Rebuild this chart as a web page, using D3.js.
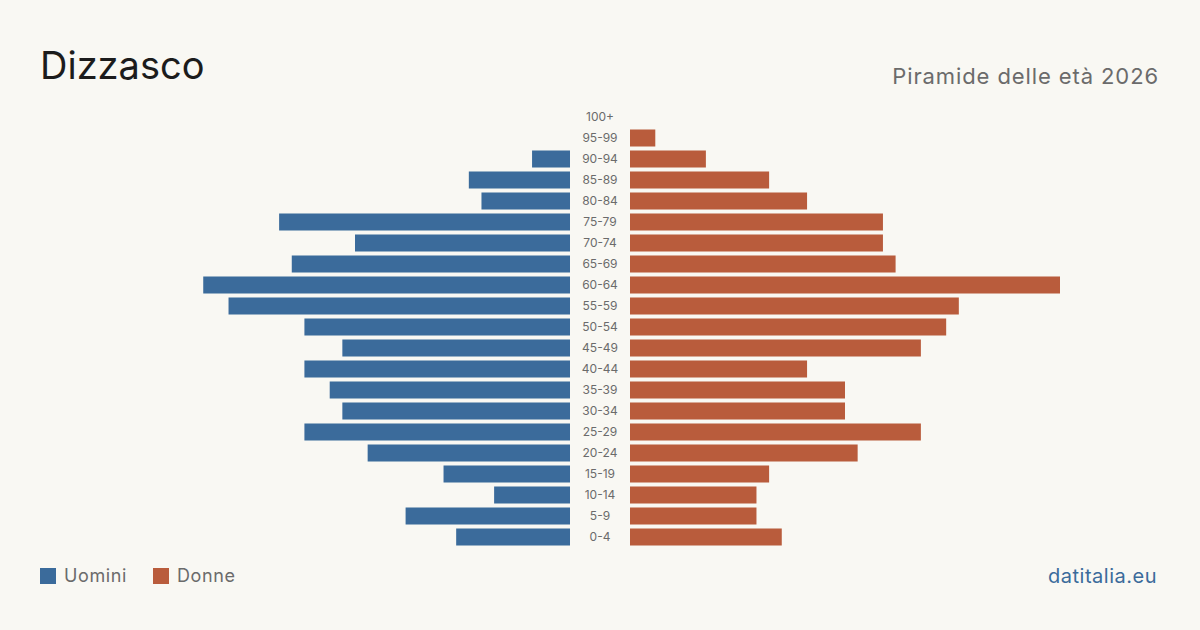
<!DOCTYPE html>
<html>
<head>
<meta charset="utf-8">
<script src="https://cdn.jsdelivr.net/npm/d3@7"></script>
<style>
  html, body { margin: 0; padding: 0; background: #f9f8f3; }
  svg { display: block; font-family: Inter, "Noto Sans", sans-serif; }
</style>
</head>
<body>
<svg id="chart" width="1200" height="630"></svg>
<script>
// age classes, top to bottom
const ages = ["100+", "95-99", "90-94", "85-89", "80-84", "75-79", "70-74", "65-69",
  "60-64", "55-59", "50-54", "45-49", "40-44", "35-39", "30-34", "25-29",
  "20-24", "15-19", "10-14", "5-9", "0-4"];
const uomini = [0, 0, 3, 8, 7, 23, 17, 22, 29, 27, 21, 18, 21, 19, 18, 21, 16, 10, 6, 13, 9];
const donne  = [0, 2, 6, 11, 14, 20, 20, 21, 34, 26, 25, 23, 14, 17, 17, 23, 18, 11, 10, 10, 12];

const W = 1200, H = 630;
const blue = "#3b6b9b", red = "#b95c3c";
const center = 600, gap = 30, half = 430;

const svg = d3.select("#chart");
svg.append("rect").attr("width", W).attr("height", H).attr("fill", "#f9f8f3");

const maxV = d3.max(uomini.concat(donne));
const x = d3.scaleLinear().domain([0, maxV]).range([0, half]);
const y = d3.scaleBand().domain(ages).range([106.5, 547.5]).paddingInner(0.19).paddingOuter(0.095);

// male bars
svg.append("g").selectAll("rect")
  .data(ages.map((a, i) => ({ age: a, v: uomini[i] })))
  .join("rect")
  .attr("x", d => center - gap - x(d.v))
  .attr("y", d => y(d.age))
  .attr("width", d => x(d.v))
  .attr("height", y.bandwidth())
  .attr("fill", blue);

// female bars
svg.append("g").selectAll("rect")
  .data(ages.map((a, i) => ({ age: a, v: donne[i] })))
  .join("rect")
  .attr("x", center + gap)
  .attr("y", d => y(d.age))
  .attr("width", d => x(d.v))
  .attr("height", y.bandwidth())
  .attr("fill", red);

// age labels
svg.append("g").selectAll("text")
  .data(ages)
  .join("text")
  .attr("x", center)
  .attr("y", d => y(d) + y.bandwidth() / 2)
  .attr("dy", "0.35em")
  .attr("text-anchor", "middle")
  .attr("font-size", 12)
  .attr("fill", "#6b6b6b")
  .text(d => d);

// title and subtitle
svg.append("text")
  .attr("x", 40).attr("y", 79)
  .attr("font-size", 38)
  .attr("fill", "#1c1c1c")
  .text("Dizzasco");

svg.append("text")
  .attr("x", 1159).attr("y", 84)
  .attr("text-anchor", "end")
  .attr("font-size", 22)
  .attr("letter-spacing", 0.9)
  .attr("fill", "#6b6b6b")
  .text("Piramide delle età 2026");

// legend
const legend = [{ label: "Uomini", color: blue, x: 40 }, { label: "Donne", color: red, x: 153 }];
const lg = svg.append("g").selectAll("g").data(legend).join("g")
  .attr("transform", d => `translate(${d.x},568)`);
lg.append("rect").attr("width", 16).attr("height", 16).attr("fill", d => d.color);
lg.append("text")
  .attr("x", 24).attr("y", 8).attr("dy", "0.35em")
  .attr("font-size", 18).attr("letter-spacing", 0.6).attr("fill", "#6b6b6b")
  .text(d => d.label);

svg.append("text")
  .attr("x", 1157).attr("y", 583)
  .attr("text-anchor", "end")
  .attr("font-size", 20)
  .attr("letter-spacing", 0.5)
  .attr("fill", "#3b6b9b")
  .text("datitalia.eu");
</script>
</body>
</html>
